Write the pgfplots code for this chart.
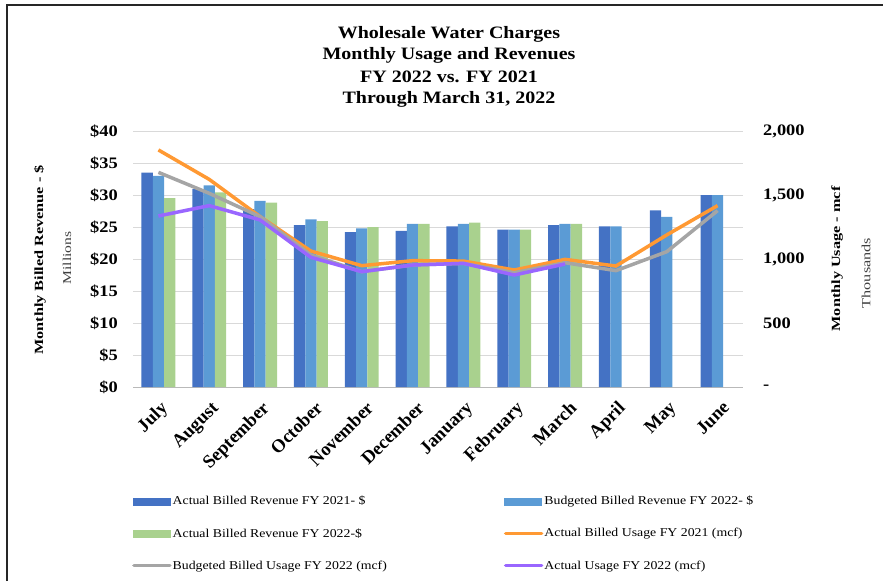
\documentclass[border=0pt]{standalone}
\usepackage{fontspec}
\usepackage{graphicx}
\usepackage{pgfplots}
\pgfplotsset{compat=1.18}
\setmainfont{Liberation Serif}[FakeStretch=1.15]
\newfontfamily\plainf{Liberation Serif}
\newfontfamily\labf{Liberation Serif}[FakeStretch=1.3]
\definecolor{c1}{HTML}{4472C4}
\definecolor{c2}{HTML}{5B9BD5}
\definecolor{c3}{HTML}{A9D18E}
\definecolor{corange}{HTML}{FF9933}
\definecolor{cgray}{HTML}{A5A5A5}
\definecolor{cpurple}{HTML}{9966FF}
\definecolor{gridc}{HTML}{D9D9D9}
\newcommand{\rl}[1]{\rotatebox{45}{#1}}
\begin{document}
\begin{tikzpicture}
\path[use as bounding box] (0pt,0pt) rectangle (883pt,-581pt);
\draw[line width=1.3pt,black!85] (7pt,-581pt) -- (7pt,-5pt) -- (883pt,-5pt);
\begin{scope}[every node/.style={font=\bfseries\fontsize{17.4}{21}\selectfont, anchor=base, inner sep=0pt}]
\node at (449pt,-38pt) {Wholesale Water Charges};
\node at (449pt,-59.5pt) {Monthly Usage and Revenues};
\node at (449pt,-82pt) {FY 2022 vs. FY 2021};
\node at (449pt,-103pt) {Through March 31, 2022};
\end{scope}
\node[rotate=90, font=\labf\bfseries\fontsize{12.5}{14}\selectfont] at (40pt,-260pt) {Monthly Billed Revenue - \$};
\node[rotate=90, font=\labf\fontsize{12}{14}\selectfont, text=black!75] at (67pt,-258pt) {Millions};
\node[rotate=90, font=\labf\bfseries\fontsize{12.5}{14}\selectfont] at (837pt,-259pt) {Monthly Usage - mcf};
\node[rotate=90, font=\labf\fontsize{12.5}{14}\selectfont, text=black!75] at (866pt,-273pt) {Thousands};

\begin{axis}[
  at={(133pt,-387pt)}, anchor=south west, scale only axis,
  width=610pt, height=256pt,
  xmin=-0.5, xmax=11.5, ymin=0, ymax=40,
  ybar=0pt, bar width=11.3pt,
  axis x line*=bottom, axis y line*=left,
  y axis line style={draw=none},
  x axis line style={draw=gray!55, line width=1pt},
  major tick length=0pt,
  ymajorgrids, grid style={draw=gridc, line width=1pt},
  xtick={0,...,11},
  xticklabels={\rl{July},\rl{August},\rl{September},\rl{October},\rl{November},\rl{December},\rl{January},\rl{February},\rl{March},\rl{April},\rl{May},\rl{June}},
  xticklabel style={anchor=north east, inner sep=0pt, xshift=13pt, yshift=-13pt, font=\plainf\bfseries\fontsize{18.5}{20}\selectfont},
  ytick={0,5,...,40},
  yticklabels={\$0,\$5,\$10,\$15,\$20,\$25,\$30,\$35,\$40},
  yticklabel style={anchor=east, inner sep=0pt, xshift=-15pt, font=\bfseries\fontsize{16}{18}\selectfont},
]
\addplot[fill=c1, draw=none] coordinates {(0,33.5) (1,30.9) (2,27.8) (3,25.3) (4,24.2) (5,24.4) (6,25.1) (7,24.6) (8,25.3) (9,25.1) (10,27.6) (11,30.0)};
\addplot[fill=c2, draw=none] coordinates {(0,33.0) (1,31.5) (2,29.1) (3,26.2) (4,24.8) (5,25.5) (6,25.5) (7,24.6) (8,25.5) (9,25.1) (10,26.6) (11,30.0)};
\addplot[fill=c3, draw=none] coordinates {(0,29.5) (1,30.4) (2,28.8) (3,25.9) (4,25.0) (5,25.5) (6,25.7) (7,24.6) (8,25.5) (9,nan) (10,nan) (11,nan)};
\end{axis}

\begin{axis}[
  at={(133pt,-387pt)}, anchor=south west, scale only axis,
  width=610pt, height=256pt,
  xmin=-0.5, xmax=11.5, ymin=0, ymax=2000,
  axis x line=none, axis y line*=right,
  y axis line style={draw=none},
  major tick length=0pt,
  ytick={0,500,1000,1500,2000},
  yticklabels={{-},{500},{1,000},{1,500},{2,000}},
  yticklabel style={anchor=west, inner sep=0pt, xshift=20pt, font=\bfseries\fontsize{16}{18}\selectfont},
  legend columns=2,
  legend cell align=left,
  legend style={at={(-0.0066,-0.414)}, anchor=north west, draw=none, fill=none,
    font=\fontsize{12}{13}\selectfont,
    nodes={inner sep=1pt}, row sep=20pt,
    /tikz/every even column/.append style={column sep=116pt}},
  legend image code/.code={\draw[#1, line cap=round] (1pt,0pt) -- (37pt,0pt);},
]
\addlegendimage{legend image code/.code={\fill[c1] (0pt,-3.5pt) rectangle (37pt,3.5pt);}}
\addlegendentry{Actual Billed Revenue FY 2021- \$}
\addlegendimage{legend image code/.code={\fill[c2] (0pt,-3.5pt) rectangle (37pt,3.5pt);}}
\addlegendentry{Budgeted Billed Revenue FY 2022- \$}
\addlegendimage{legend image code/.code={\fill[c3] (0pt,-3.5pt) rectangle (37pt,3.5pt);}}
\addlegendentry{Actual Billed Revenue FY 2022-\$}
\addplot[corange, line width=3.5pt] coordinates {(0,1852) (1,1622) (2,1331) (3,1062) (4,948) (5,987) (6,984) (7,914) (8,997) (9,945) (10,1188) (11,1417)};
\addlegendentry{Actual Billed Usage FY 2021 (mcf)}
\addplot[cgray, line width=3.5pt] coordinates {(0,1677) (1,1513) (2,1331) (3,1031) (4,901) (5,953) (6,966) (7,893) (8,971) (9,909) (10,1057) (11,1378)};
\addlegendentry{Budgeted Billed Usage FY 2022 (mcf)}
\addplot[cpurple, line width=3.5pt] coordinates {(0,1336) (1,1417) (2,1305) (3,1013) (4,901) (5,953) (6,966) (7,875) (8,961)};
\addlegendentry{Actual Usage FY 2022 (mcf)}
\end{axis}
\end{tikzpicture}
\end{document}
